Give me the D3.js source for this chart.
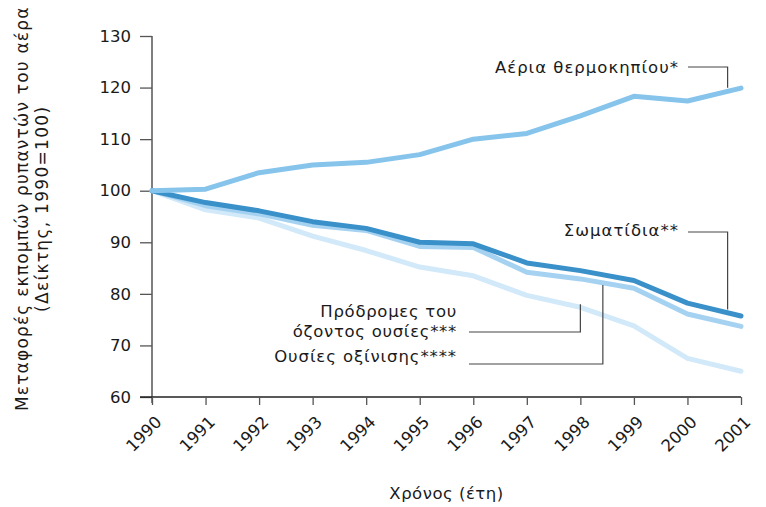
<!DOCTYPE html>
<meta charset="utf-8">
<style>
    body { margin: 0; background: #fff; }
    text { font-family: "DejaVu Sans", Verdana, sans-serif; fill: #1a1a1a; }
</style>
<script src="https://d3js.org/d3.v7.min.js"></script>
<div id="chart"></div>
<script>
    // data (index, 1990 = 100)
    var years = [1990, 1991, 1992, 1993, 1994, 1995, 1996, 1997, 1998, 1999, 2000, 2001];
    var greenhouse = [100, 100.3, 103.5, 105, 105.5, 107, 110, 111.1, 114.5, 118.3, 117.4, 119.9];
    var particulates = [100, 97.7, 96.1, 94, 92.7, 90, 89.7, 86, 84.5, 82.6, 78.2, 75.7];
    var ozone = [100, 97.1, 95.5, 93.3, 92.3, 89.2, 89, 84.2, 82.9, 81.1, 76.1, 73.7];
    var acid = [100, 96.3, 94.7, 91.2, 88.4, 85.2, 83.5, 79.7, 77.4, 73.8, 67.5, 65];
    var yTicks = [60, 70, 80, 90, 100, 110, 120, 130];

    var margin = {top: 36, right: 25, bottom: 110, left: 152},
        width = 741 - margin.left,
        height = 397 - margin.top;

    var svg = d3.select("#chart")
        .append("svg")
        .attr("width", 766)
        .attr("height", 507)
        .append("g")
        .attr("transform", "translate(" + margin.left + "," + margin.top + ")");

    var x = d3.scaleLinear().domain([1990, 2001]).range([0, width]);
    var y = d3.scaleLinear().domain([60, 130]).range([height, 0]);

    // y axis
    var yAxis = svg.append("g")
        .call(d3.axisLeft(y).tickValues(yTicks).tickSize(12).tickPadding(9));
    yAxis.select(".domain").remove();
    yAxis.append("line")
        .attr("x1", 0).attr("x2", 0)
        .attr("y1", 0).attr("y2", height + 6)
        .attr("stroke", "#555").attr("stroke-width", 1.5);
    yAxis.selectAll(".tick line").attr("stroke", "#555").attr("stroke-width", 1.3);
    yAxis.selectAll("text").style("font-size", "16.5px").attr("fill", "#1a1a1a");

    // x axis
    var xAxis = svg.append("g")
        .attr("transform", "translate(0," + height + ")")
        .call(d3.axisBottom(x).tickValues(years).tickFormat(d3.format("d")).tickSize(8).tickSizeOuter(0));
    xAxis.select(".domain").attr("d", "M-12,0H" + width).attr("stroke", "#222").attr("stroke-width", 1.3);
    xAxis.selectAll(".tick line").attr("stroke", "#555").attr("stroke-width", 1.3);
    xAxis.selectAll("text")
        .style("font-size", "16.5px")
        .style("text-anchor", "end")
        .attr("fill", "#1a1a1a")
        .attr("y", 0)
        .attr("dy", "0.35em")
        .attr("transform", "translate(6,22)rotate(-45)");

    // lines
    var line = d3.line()
        .x(function(d, i) { return x(years[i]); })
        .y(function(d) { return y(d); });

    var series = [
        {values: acid, color: "#d2e9f9"},
        {values: ozone, color: "#a6d2f1"},
        {values: particulates, color: "#3a90c9"},
        {values: greenhouse, color: "#86c4ec"}
    ];
    svg.selectAll(".series")
        .data(series)
        .enter()
        .append("path")
        .attr("d", function(d) { return line(d.values); })
        .attr("fill", "none")
        .attr("stroke", function(d) { return d.color; })
        .attr("stroke-width", 5)
        .attr("stroke-linejoin", "round")
        .attr("stroke-linecap", "round");

    // labels with leader lines
    function label(lines, tx, ty, sp, path) {
        var t = svg.append("text")
            .attr("x", tx).attr("y", ty)
            .attr("text-anchor", "end")
            .style("font-size", "16.5px")
            .style("letter-spacing", sp + "px");
        lines.forEach(function(s, i) {
            t.append("tspan").attr("x", tx).attr("dy", i ? 20 : 0).text(s);
        });
        svg.append("path")
            .attr("d", path)
            .attr("fill", "none")
            .attr("stroke", "#444")
            .attr("stroke-width", 1.2);
    }
    var xl = x(2000.75);
    label(["Αέρια θερμοκηπίου*"], 527, 37, 1, "M536,31H" + xl + "V" + (y(119.6) - 2));
    label(["Σωματίδια**"], 527, 200, 1, "M536,196H" + xl + "V" + (y(76.4) - 3));
    label(["Πρόδρομες του", "όζοντος ουσίες***"], 305, 281, 0.7,
        "M317,296H" + x(1998) + "V" + (y(77.4) - 3));
    label(["Ουσίες οξίνισης****"], 305, 326, 0.9,
        "M317,328H" + x(1998.42) + "V" + (y(82.3) + 3));

    // axis titles
    svg.append("text")
        .attr("transform", "translate(-124," + (y(96.5)) + ")rotate(-90)")
        .attr("text-anchor", "middle")
        .style("font-size", "17px")
        .style("letter-spacing", "1.2px")
        .text("Μεταφορές εκπομπών ρυπαντών του αέρα");
    svg.append("text")
        .attr("transform", "translate(-104," + (y(96.5)) + ")rotate(-90)")
        .attr("text-anchor", "middle")
        .style("font-size", "17px")
        .style("letter-spacing", "1.3px")
        .text("(Δείκτης, 1990=100)");
    svg.append("text")
        .attr("x", x(1995.5)).attr("y", 463)
        .attr("text-anchor", "middle")
        .style("font-size", "16.5px")
        .style("letter-spacing", "0.5px")
        .text("Χρόνος (έτη)");
</script>
